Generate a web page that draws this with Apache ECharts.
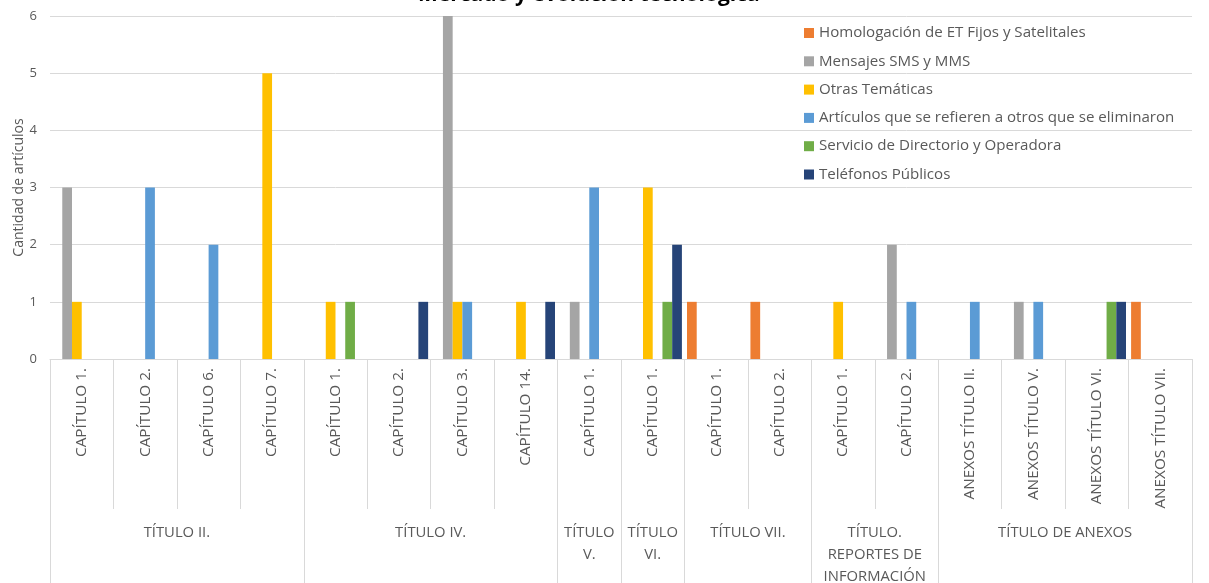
<!DOCTYPE html>
<html>
<head>
<meta charset="utf-8">
<script src="https://cdn.jsdelivr.net/npm/echarts@6/dist/echarts.min.js"></script>
<style>html,body{margin:0;padding:0;background:#fff}#c{width:1209px;height:583px}</style>
</head>
<body>
<div id="c"></div>
<script>
var chapters = ['CAPÍTULO 1.','CAPÍTULO 2.','CAPÍTULO 6.','CAPÍTULO 7.','CAPÍTULO 1.','CAPÍTULO 2.','CAPÍTULO 3.','CAPÍTULO 14.','CAPÍTULO 1.','CAPÍTULO 1.','CAPÍTULO 1.','CAPÍTULO 2.','CAPÍTULO 1.','CAPÍTULO 2.','ANEXOS TÍTULO II.','ANEXOS TÍTULO V.','ANEXOS TÍTULO VI.','ANEXOS TÍTULO VII.'];
var groupNames = ['TÍTULO II.','TÍTULO IV.','TÍTULO\nV.','TÍTULO\nVI.','TÍTULO VII.','TÍTULO.\nREPORTES DE\nINFORMACIÓN','TÍTULO DE ANEXOS'];
var groupSizes = [4, 4, 1, 1, 2, 2, 4];
var seriesNames = ['Homologación de ET Fijos y Satelitales','Mensajes SMS y MMS','Otras Temáticas','Artículos que se refieren a otros que se eliminaron','Servicio de Directorio y Operadora','Teléfonos Públicos'];
var homologacion = [null,null,null,null,null,null,null,null,null,null,1,1,null,null,null,null,null,1];
var mensajes     = [3,null,null,null,null,null,6,null,1,null,null,null,null,2,null,1,null,null];
var otras        = [1,null,null,5,1,null,1,1,null,3,null,null,1,null,null,null,null,null];
var articulos    = [null,3,2,null,null,null,1,null,3,null,null,null,null,1,1,1,null,null];
var servicio     = [null,null,null,null,1,null,null,null,null,1,null,null,null,null,null,null,1,null];
var telefonos    = [null,null,null,null,null,1,null,1,null,2,null,null,null,null,null,null,1,null];
var yTicks = [0,1,2,3,4,5,6];
var colors = ['#ED7D31','#A5A5A5','#FFC000','#5B9BD5','#70AD47','#264478'];

// group boundaries and centers (in category units)
var bounds = [0], centers = [], acc = 0;
groupSizes.forEach(function(s){ centers.push(acc + s/2); acc += s; bounds.push(acc); });

var allData = [homologacion, mensajes, otras, articulos, servicio, telefonos];
var txt = '#595959', gridC = '#d9d9d9', font = 'Open Sans';

var chart = echarts.init(document.getElementById('c'), null, {renderer:'canvas'});
chart.setOption({
  animation: false,
  color: colors,
  title: {
    text: 'Mercado y evolución tecnológica',
    left: 413, top: -20,
    textStyle: {fontFamily: font, fontSize: 21, fontWeight: 'bold', color: '#000'}
  },
  legend: {
    orient: 'vertical', left: 799, top: 19,
    itemWidth: 10, itemHeight: 10, itemGap: 10.3, icon: 'rect',
    textStyle: {fontFamily: font, fontSize: 15.1, color: txt, lineHeight: 18},
    data: seriesNames
  },
  grid: {left: 50, right: 17, top: 16, bottom: 224, outerBoundsMode: 'none', containLabel: false},
  xAxis: [{
    type: 'category', data: chapters, position: 'bottom',
    axisLine: {lineStyle: {color: gridC}},
    axisTick: {show: true, interval: 0, length: 150, lineStyle: {color: gridC}},
    axisLabel: {interval: 0, rotate: 90, margin: 9, color: txt, fontFamily: font, fontSize: 15.3}
  }, {
    type: 'value', min: 0, max: 18, position: 'bottom',
    axisLine: {show: false},
    splitLine: {show: false},
    axisTick: {show: true, customValues: bounds, length: 224, lineStyle: {color: gridC}},
    axisLabel: {
      customValues: centers, margin: 163, color: txt, fontFamily: font, fontSize: 14.8, lineHeight: 22,
      formatter: function(v){ var i = centers.indexOf(v); return i >= 0 ? groupNames[i] : ''; }
    }
  }],
  yAxis: {
    type: 'value', min: yTicks[0], max: yTicks[yTicks.length-1], interval: 1,
    name: 'Cantidad de artículos', nameLocation: 'middle', nameGap: 24, nameMoveOverlap: false,
    nameTextStyle: {fontFamily: font, fontSize: 14, color: txt},
    axisLine: {show: false}, axisTick: {show: false},
    axisLabel: {color: txt, fontFamily: font, fontSize: 13, margin: 13},
    splitLine: {lineStyle: {color: gridC}}
  },
  series: seriesNames.map(function(n, i){
    return {name: n, type: 'bar', xAxisIndex: 0, data: allData[i], barGap: '0%', barCategoryGap: '8%'};
  })
});
</script>
</body>
</html>
